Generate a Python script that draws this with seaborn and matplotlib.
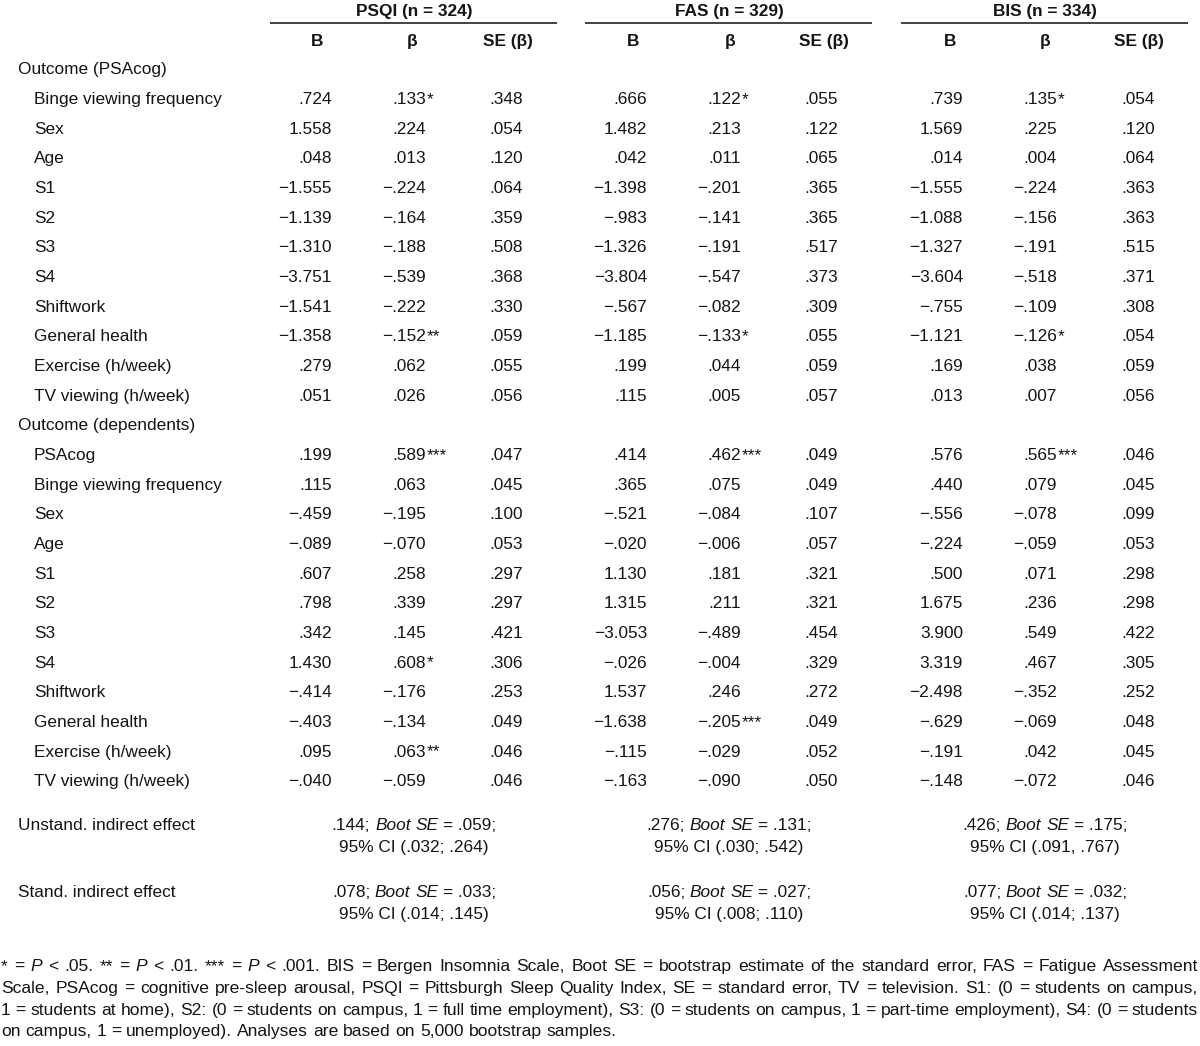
import matplotlib
matplotlib.use("Agg")
import matplotlib.pyplot as plt
import seaborn as sns
import numpy as np

# ---------------------------------------------------------------- data
scales = ["PSQI", "FAS", "BIS"]
scale_n = [324, 329, 334]
stat_headers = ["B", "β", "SE (β)"]
section_titles = ["Outcome (PSAcog)", "Outcome (dependents)"]

predictors_cog = ["Binge viewing frequency", "Sex", "Age", "S1", "S2", "S3", "S4",
                  "Shiftwork", "General health", "Exercise (h/week)", "TV viewing (h/week)"]
predictors_dep = ["PSAcog", "Binge viewing frequency", "Sex", "Age", "S1", "S2", "S3", "S4",
                  "Shiftwork", "General health", "Exercise (h/week)", "TV viewing (h/week)"]

# Outcome (PSAcog)
psqi_cog_B = [.724, 1.558, .048, -1.555, -1.139, -1.310, -3.751, -1.541, -1.358, .279, .051]
psqi_cog_beta = [.133, .224, .013, -.224, -.164, -.188, -.539, -.222, -.152, .062, .026]
psqi_cog_se = [.348, .054, .120, .064, .359, .508, .368, .330, .059, .055, .056]
psqi_cog_stars = [1, 0, 0, 0, 0, 0, 0, 0, 2, 0, 0]

fas_cog_B = [.666, 1.482, .042, -1.398, -.983, -1.326, -3.804, -.567, -1.185, .199, .115]
fas_cog_beta = [.122, .213, .011, -.201, -.141, -.191, -.547, -.082, -.133, .044, .005]
fas_cog_se = [.055, .122, .065, .365, .365, .517, .373, .309, .055, .059, .057]
fas_cog_stars = [1, 0, 0, 0, 0, 0, 0, 0, 1, 0, 0]

bis_cog_B = [.739, 1.569, .014, -1.555, -1.088, -1.327, -3.604, -.755, -1.121, .169, .013]
bis_cog_beta = [.135, .225, .004, -.224, -.156, -.191, -.518, -.109, -.126, .038, .007]
bis_cog_se = [.054, .120, .064, .363, .363, .515, .371, .308, .054, .059, .056]
bis_cog_stars = [1, 0, 0, 0, 0, 0, 0, 0, 1, 0, 0]

# Outcome (dependents)
psqi_dep_B = [.199, .115, -.459, -.089, .607, .798, .342, 1.430, -.414, -.403, .095, -.040]
psqi_dep_beta = [.589, .063, -.195, -.070, .258, .339, .145, .608, -.176, -.134, .063, -.059]
psqi_dep_se = [.047, .045, .100, .053, .297, .297, .421, .306, .253, .049, .046, .046]
psqi_dep_stars = [3, 0, 0, 0, 0, 0, 0, 1, 0, 0, 2, 0]

fas_dep_B = [.414, .365, -.521, -.020, 1.130, 1.315, -3.053, -.026, 1.537, -1.638, -.115, -.163]
fas_dep_beta = [.462, .075, -.084, -.006, .181, .211, -.489, -.004, .246, -.205, -.029, -.090]
fas_dep_se = [.049, .049, .107, .057, .321, .321, .454, .329, .272, .049, .052, .050]
fas_dep_stars = [3, 0, 0, 0, 0, 0, 0, 0, 0, 3, 0, 0]

bis_dep_B = [.576, .440, -.556, -.224, .500, 1.675, 3.900, 3.319, -2.498, -.629, -.191, -.148]
bis_dep_beta = [.565, .079, -.078, -.059, .071, .236, .549, .467, -.352, -.069, .042, -.072]
bis_dep_se = [.046, .045, .099, .053, .298, .298, .422, .305, .252, .048, .045, .046]
bis_dep_stars = [3, 0, 0, 0, 0, 0, 0, 0, 0, 0, 0, 0]

indirect_labels = ["Unstand. indirect effect", "Stand. indirect effect"]
indirect_est = [[.144, .276, .426], [.078, .056, .077]]
indirect_boot_se = [[.059, .131, .175], [.033, .027, .032]]
indirect_ci_lo = [[.032, .030, .091], [.014, .008, .014]]
indirect_ci_hi = [[.264, .542, .767], [.145, .110, .137]]
indirect_ci_sep = [[";", ";", ","], [";", ";", ";"]]

footnote_lines = [
    "* = P < .05. ** = P < .01. *** = P < .001. BIS = Bergen Insomnia Scale, Boot SE = bootstrap estimate of the standard error, FAS = Fatigue Assessment",
    "Scale, PSAcog = cognitive pre-sleep arousal, PSQI = Pittsburgh Sleep Quality Index, SE = standard error, TV = television. S1: (0 = students on campus,",
    "1 = students at home), S2: (0 = students on campus, 1 = full time employment), S3: (0 = students on campus, 1 = part-time employment), S4: (0 = students",
    "on campus, 1 = unemployed). Analyses are based on 5,000 bootstrap samples.",
]

# ---------------------------------------------------------------- style
sns.set_theme(style="white")
BODY = ["Liberation Sans", "DejaVu Sans"]
NOTE = ["Liberation Sans", "DejaVu Sans"]
plt.rcParams["font.family"] = BODY
INK = "#141414"
FS = 12.4
NOTE_FS = 12.6

W, H = 1200, 1046
fig = plt.figure(figsize=(W / 100, H / 100), dpi=100)
ax = fig.add_axes([0, 0, 1, 1])
ax.set_xlim(0, W)
ax.set_ylim(H, 0)
ax.axis("off")
renderer = fig.canvas.get_renderer()


def fmt(v):
    s = f"{abs(v):.3f}"
    if s.startswith("0"):
        s = s[1:]
    return ("−" if v < 0 else "") + s


def cap_off(fs):
    return 0.36 * fs * 100 / 72


def width_of(t):
    return t.get_window_extent(renderer).width


# layout
group_center = [414, 729, 1045]
right_B = [332, 647, 963]
right_beta = [426, 741, 1057]
right_se = [523, 838, 1155]
head_center = [[317, 412, 508], [633, 730, 824], [950, 1045, 1139]]

# group headers
for g, (name, n) in enumerate(zip(scales, scale_n)):
    ax.text(group_center[g], 10 + cap_off(FS), f"{name} (n = {n})", ha="center", va="baseline",
            fontsize=FS, fontweight="bold", color=INK)
    ax.plot([group_center[g] - 144, group_center[g] + 143], [23, 23], color="#333333", lw=1.3,
            solid_capstyle="butt")
    for k, h in enumerate(stat_headers):
        ax.text(head_center[g][k], 40 + cap_off(FS), h, ha="center", va="baseline",
                fontsize=FS, fontweight="bold", color=INK)

Y0, STEP = 68, 29.67
sections = [
    (predictors_cog, [(psqi_cog_B, psqi_cog_beta, psqi_cog_se, psqi_cog_stars),
                      (fas_cog_B, fas_cog_beta, fas_cog_se, fas_cog_stars),
                      (bis_cog_B, bis_cog_beta, bis_cog_se, bis_cog_stars)]),
    (predictors_dep, [(psqi_dep_B, psqi_dep_beta, psqi_dep_se, psqi_dep_stars),
                      (fas_dep_B, fas_dep_beta, fas_dep_se, fas_dep_stars),
                      (bis_dep_B, bis_dep_beta, bis_dep_se, bis_dep_stars)]),
]

row = 0
for s, (preds, groups) in enumerate(sections):
    y = Y0 + row * STEP
    ax.text(18, y + cap_off(FS), section_titles[s], ha="left", va="baseline", fontsize=FS, color=INK)
    row += 1
    for i, p in enumerate(preds):
        y = Y0 + row * STEP + cap_off(FS)
        ax.text(34, y, p, ha="left", va="baseline", fontsize=FS, color=INK)
        for g, (B, beta, se, stars) in enumerate(groups):
            ax.text(right_B[g], y, fmt(B[i]), ha="right", va="baseline", fontsize=FS, color=INK)
            ax.text(right_beta[g], y, fmt(beta[i]), ha="right", va="baseline", fontsize=FS, color=INK)
            if stars[i]:
                ax.text(right_beta[g] + 0.5, y, "*" * stars[i], ha="left", va="baseline",
                        fontsize=FS, color=INK)
            ax.text(right_se[g], y, fmt(se[i]), ha="right", va="baseline", fontsize=FS, color=INK)
        row += 1


def draw_segments(xc, y, segs, fs, family, align="center", total=None, x0=None):
    texts = []
    for txt, style in segs:
        t = ax.text(0, y, txt, ha="left", va="baseline", fontsize=fs, family=family,
                    style=style, color=INK)
        texts.append(t)
    widths = [width_of(t) for t in texts]
    a = ax.text(0, y, "a a", fontsize=fs, family=family)
    b = ax.text(0, y, "aa", fontsize=fs, family=family)
    sp = width_of(a) - width_of(b)
    a.remove(); b.remove()
    if align == "justify":
        gap = (total - sum(widths)) / (len(texts) - 1)
        x = x0
    else:
        gap = sp
        full = sum(widths) + sp * (len(texts) - 1)
        x = xc - full / 2 if align == "center" else x0
    for t, w in zip(texts, widths):
        t.set_x(x)
        x += w + gap


# indirect effects
ind_y = [(824, 846), (891, 913)]
for r, lab in enumerate(indirect_labels):
    y1, y2 = ind_y[r]
    ax.text(18, y1 + cap_off(FS), lab, ha="left", va="baseline", fontsize=FS, color=INK)
    for g in range(3):
        segs1 = [(fmt(indirect_est[r][g]) + ";", "normal"), ("Boot", "italic"), ("SE", "italic"),
                 ("= " + fmt(indirect_boot_se[r][g]) + ";", "normal")]
        draw_segments(group_center[g], y1 + cap_off(FS), segs1, FS, BODY)
        ci = f"95% CI ({fmt(indirect_ci_lo[r][g])}{indirect_ci_sep[r][g]} {fmt(indirect_ci_hi[r][g])})"
        ax.text(group_center[g], y2 + cap_off(FS), ci, ha="center", va="baseline", fontsize=FS, color=INK)

# footnote (justified)
note_y = [965, 987, 1008.5, 1030]
for li, line in enumerate(footnote_lines):
    words = line.split(" ")
    segs = [(w, "italic" if (li == 0 and w == "P") else "normal") for w in words]
    yb = note_y[li] + cap_off(NOTE_FS)
    if li < len(footnote_lines) - 1:
        draw_segments(0, yb, segs, NOTE_FS, NOTE, align="justify", total=1197, x0=1)
    else:
        draw_segments(0, yb, segs, NOTE_FS, NOTE, align="left", x0=1)

fig.savefig("out.png", dpi=100, facecolor="white")
